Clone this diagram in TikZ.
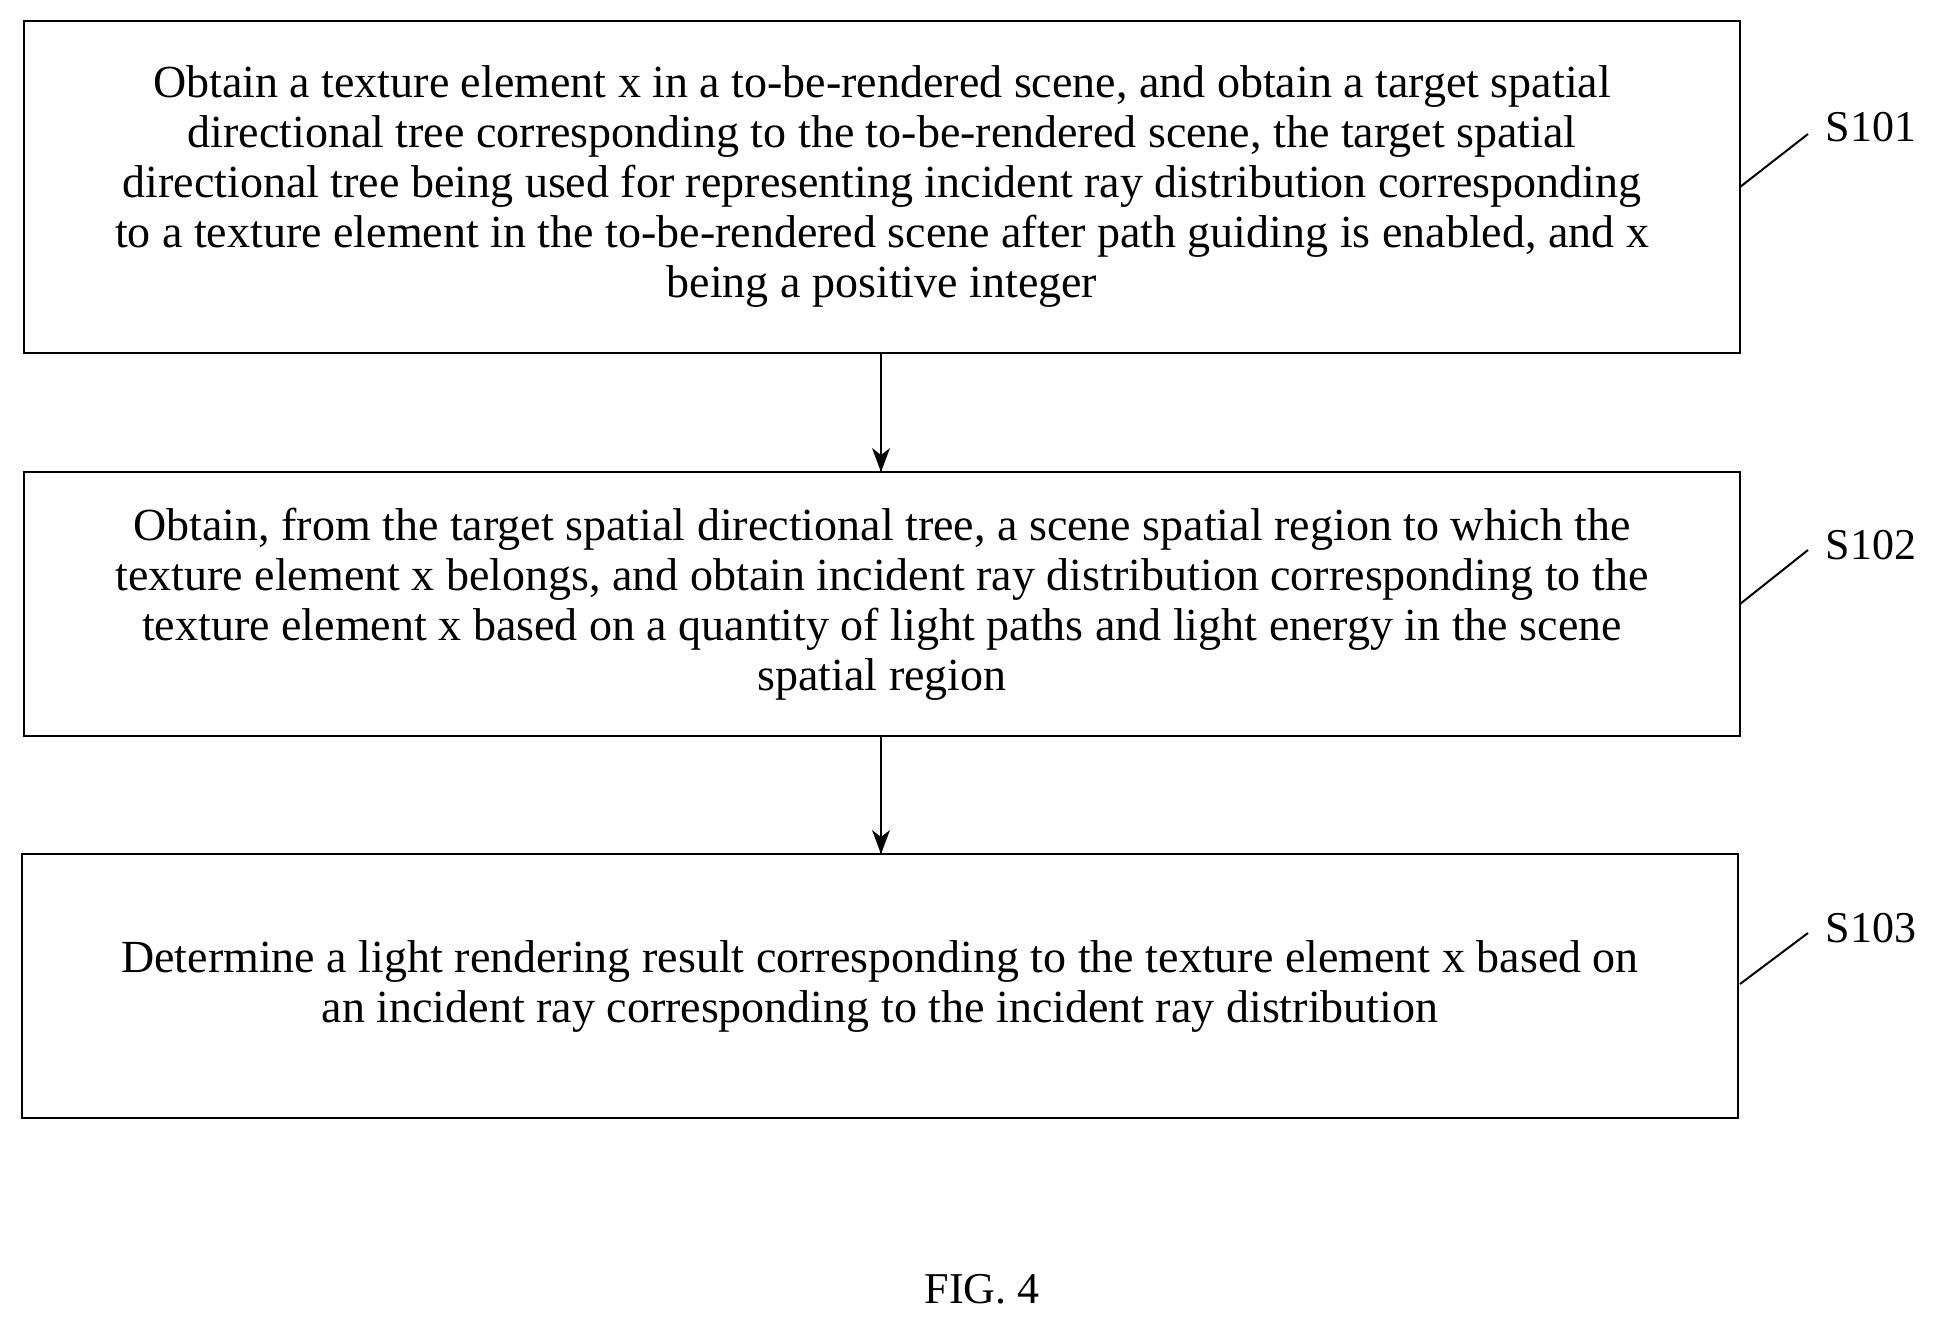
\documentclass[tikz,border=0pt]{standalone}
\usepackage{fontspec}
\setmainfont{Liberation Serif}
\begin{document}
\begin{tikzpicture}[x=1pt,y=-1pt,
  box/.style={draw,line width=2.5pt},
  txt/.style={align=center,font=\fontsize{46}{50}\selectfont},
  lab/.style={font=\fontsize{44}{48}\selectfont,anchor=west}]
\useasboundingbox (0,0) rectangle (1942,1319);
\draw[box] (24,21) rectangle (1740,353);
\draw[box] (24,472) rectangle (1740,736);
\draw[box] (22,854) rectangle (1738,1118);
\node[txt] (t1) at (882,187) {Obtain a texture element x in a to-be-rendered scene, and obtain a target spatial\\ directional tree corresponding to the to-be-rendered scene, the target spatial\\ directional tree being used for representing incident ray distribution corresponding\\ to a texture element in the to-be-rendered scene after path guiding is enabled, and x\\ being a positive integer};
\node[txt] (t2) at (882,604) {Obtain, from the target spatial directional tree, a scene spatial region to which the\\ texture element x belongs, and obtain incident ray distribution corresponding to the\\ texture element x based on a quantity of light paths and light energy in the scene\\ spatial region};
\node[txt] (t3) at (880,986) {Determine a light rendering result corresponding to the texture element x based on\\ an incident ray corresponding to the incident ray distribution};
\coordinate (a1) at (881,353); \coordinate (b1) at (881,472);
\coordinate (a2) at (881,736); \coordinate (b2) at (881,854);
\draw[line width=1.5pt] (a1)--(b1) ; \fill (b1) -- ++(-9,-24) -- ++(9,7) -- ++(9,-7) -- cycle;
\draw[line width=1.5pt] (a2)--(b2) ; \fill (b2) -- ++(-9,-24) -- ++(9,7) -- ++(9,-7) -- cycle;
\node[lab] (s1) at (1822,127) {S101};
\node[lab] (s2) at (1822,545) {S102};
\node[lab] (s3) at (1822,928) {S103};
\coordinate (c1) at (1740,187); \coordinate (c2) at (1740,604); \coordinate (c3) at (1740,984);
\draw[line width=2pt] (c1) -- (1808,134);
\draw[line width=2pt] (c2) -- (1808,550);
\draw[line width=2pt] (c3) -- (1808,933);
\node[font=\fontsize{44}{48}\selectfont] (fig) at (982,1289) {FIG. 4};
\end{tikzpicture}
\end{document}
